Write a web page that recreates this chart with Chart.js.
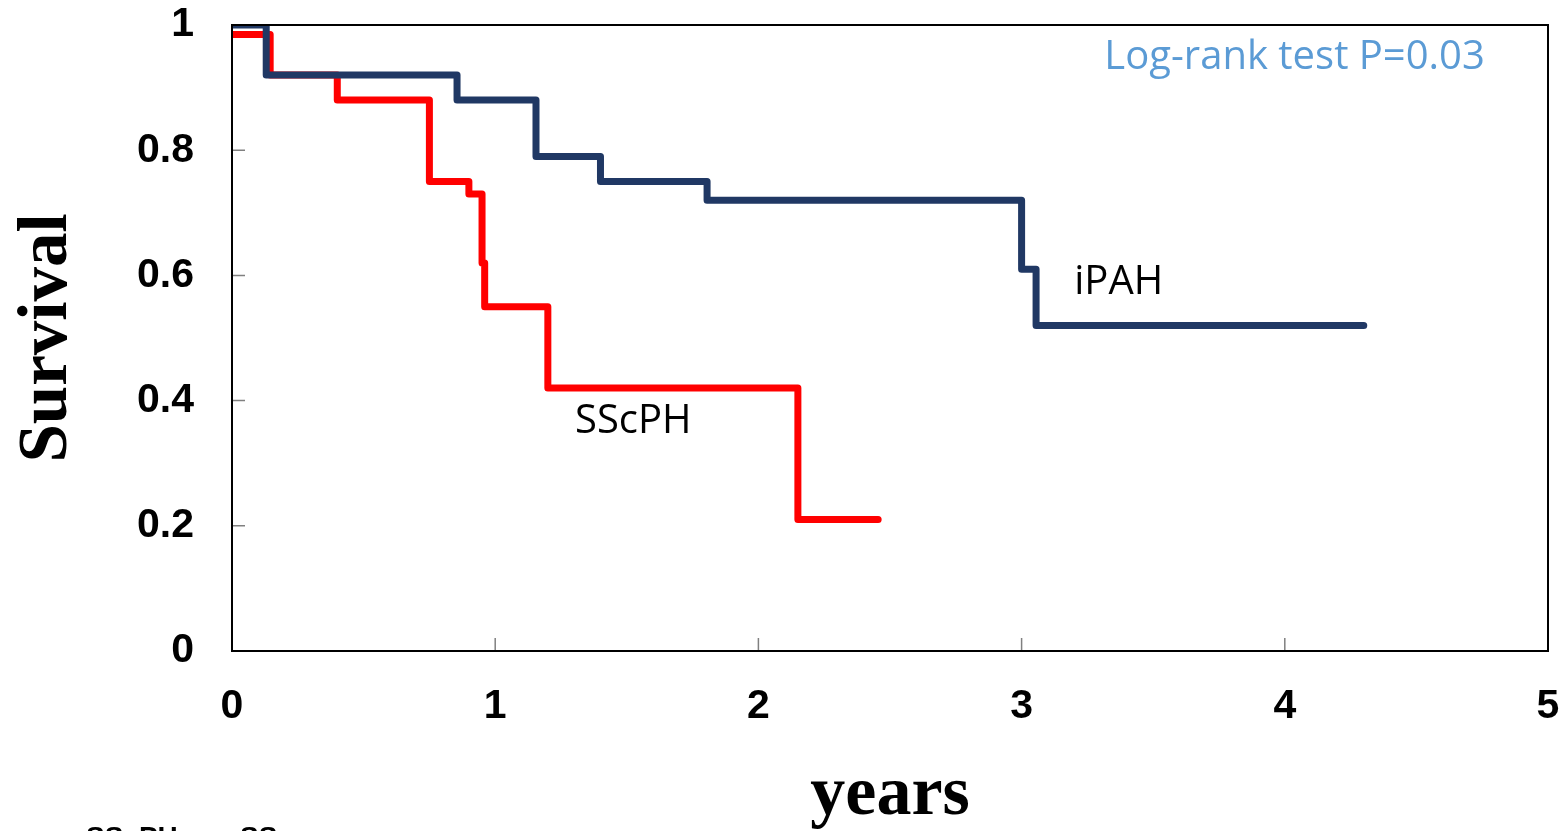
<!DOCTYPE html>
<html>
<head>
<meta charset="utf-8">
<title>Survival</title>
<script src="https://cdn.jsdelivr.net/npm/chart.js@4.4.1/dist/chart.umd.min.js"></script>
<style>
  html, body { margin: 0; padding: 0; background: #fff; overflow: hidden; }
  canvas { display: block; }
</style>
</head>
<body>
<canvas id="kmChart" width="1560" height="831"></canvas>
<script>
// Kaplan-Meier steps (years, survival after the step)
const ipahTimes = [0, 0.13, 0.855, 1.155, 1.40, 1.805, 3.0, 3.055, 4.30];
const ipahSurv  = [1.0, 0.92, 0.88, 0.79, 0.75, 0.72, 0.61, 0.52, 0.52];
const sscTimes  = [0, 0.145, 0.40, 0.75, 0.90, 0.95, 0.96, 1.20, 2.15, 2.455];
const sscSurv   = [0.985, 0.92, 0.88, 0.75, 0.73, 0.62, 0.55, 0.42, 0.21, 0.21];

const xTicks = [0, 1, 2, 3, 4, 5];
const yTicks = [0, 0.2, 0.4, 0.6, 0.8, 1];

// build {x, y} points for the library
function toPoints(times, surv) {
  return times.map((t, i) => ({ x: t, y: surv[i] }));
}

// no extra room for edge labels, the layout padding does it
function noEdgePadding(s) {
  s.paddingTop = 0;
  s.paddingBottom = 0;
  s.paddingLeft = 0;
  s.paddingRight = 0;
}

// frame, inner tick marks and the text notes
const framePlugin = {
  id: 'frame',
  afterDraw(chart) {
    const { ctx, chartArea: a, scales } = chart;
    ctx.save();
    // inner ticks
    ctx.strokeStyle = '#808080';
    ctx.lineWidth = 1.5;
    ctx.beginPath();
    xTicks.forEach(v => {
      const px = scales.x.getPixelForValue(v);
      ctx.moveTo(px, a.bottom);
      ctx.lineTo(px, a.bottom - 13);
    });
    yTicks.forEach(v => {
      const py = scales.y.getPixelForValue(v);
      ctx.moveTo(a.left, py);
      ctx.lineTo(a.left + 13, py);
    });
    ctx.stroke();
    // frame
    ctx.strokeStyle = '#000';
    ctx.lineWidth = 2;
    ctx.strokeRect(a.left, a.top, a.right - a.left, a.bottom - a.top);

    // notes
    ctx.textBaseline = 'middle';
    ctx.font = '40px "Open Sans", sans-serif';
    ctx.fillStyle = '#5B9BD5';
    ctx.textAlign = 'right';
    ctx.fillText('Log-rank test P=0.03', scales.x.getPixelForValue(4.76), scales.y.getPixelForValue(0.948), 395);
    ctx.fillStyle = '#000';
    ctx.textAlign = 'left';
    ctx.fillText('iPAH', scales.x.getPixelForValue(3.2), scales.y.getPixelForValue(0.588));
    ctx.fillText('SScPH', scales.x.getPixelForValue(1.303), scales.y.getPixelForValue(0.367));

    // caption cut off at the bottom edge
    ctx.font = 'bold 28px "Liberation Sans", Arial, sans-serif';
    ctx.textBaseline = 'top';
    ctx.fillText('SScPH  vs  SSc', 86, 824);
    ctx.restore();
  }
};

const data = {
  datasets: [
    {
      label: 'iPAH',
      data: toPoints(ipahTimes, ipahSurv),
      borderColor: '#203864',
      borderWidth: 7,
      stepped: 'before',
      pointRadius: 0,
      borderCapStyle: 'round',
      borderJoinStyle: 'round',
      fill: false,
      order: 0
    },
    {
      label: 'SScPH',
      data: toPoints(sscTimes, sscSurv),
      borderColor: '#FF0000',
      borderWidth: 7,
      stepped: 'before',
      pointRadius: 0,
      borderCapStyle: 'round',
      borderJoinStyle: 'round',
      fill: false,
      order: 1
    }
  ]
};

const options = {
  responsive: false,
  animation: false,
  layout: { padding: { top: 25, right: 12, left: 0, bottom: 0 } },
  plugins: {
    legend: { display: false },
    tooltip: { enabled: false }
  },
  scales: {
    x: {
      type: 'linear',
      min: 0,
      max: 5,
      afterBuildTicks: s => { s.ticks = xTicks.map(v => ({ value: v })); },
      afterFit: s => { s.height = 180; noEdgePadding(s); },
      grid: { display: false, drawTicks: false },
      border: { display: false },
      ticks: {
        padding: 31,
        color: '#000',
        font: { family: '"Liberation Sans", Arial, sans-serif', size: 41, weight: 'bold' },
        callback: v => String(v)
      },
      title: {
        display: true,
        text: 'years',
        color: '#000',
        font: { family: '"Liberation Serif", "Times New Roman", serif', size: 70, weight: 'bold', lineHeight: 1 },
        padding: { top: 0, bottom: 0 }
      }
    },
    y: {
      type: 'linear',
      min: 0,
      max: 1,
      afterBuildTicks: s => { s.ticks = yTicks.map(v => ({ value: v })); },
      afterFit: s => { s.width = 232; noEdgePadding(s); },
      grid: { display: false, drawTicks: false },
      border: { display: false },
      ticks: {
        padding: 38,
        color: '#000',
        font: { family: '"Liberation Sans", Arial, sans-serif', size: 41, weight: 'bold' },
        callback: v => String(Number(v.toFixed(1)))
      },
      title: {
        display: true,
        text: 'Survival',
        color: '#000',
        font: { family: '"Liberation Serif", "Times New Roman", serif', size: 69, weight: 'bold', lineHeight: 1 },
        padding: { top: 14, bottom: 0 }
      }
    }
  }
};

const ctx = document.getElementById('kmChart').getContext('2d');
const kmChart = new Chart(ctx, {
  type: 'line',
  data: data,
  options: options,
  plugins: [framePlugin]
});
</script>
</body>
</html>
